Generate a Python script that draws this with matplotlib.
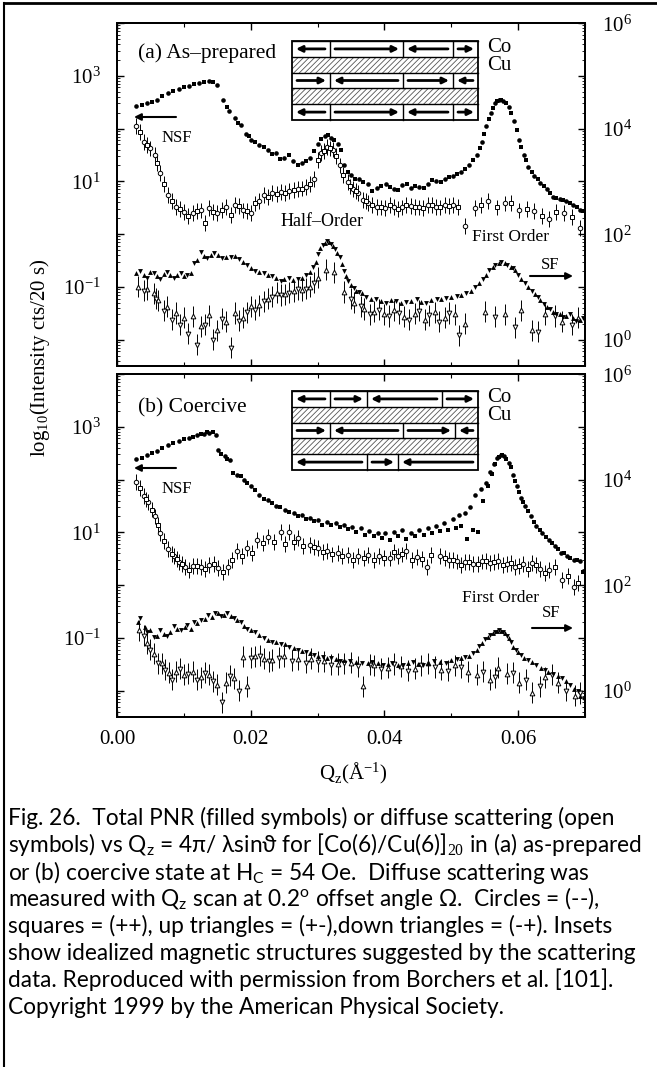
import numpy as np
import matplotlib
matplotlib.use('Agg')
import matplotlib.pyplot as plt
from matplotlib.patches import Rectangle
from matplotlib.lines import Line2D
from matplotlib.ticker import LogLocator, FuncFormatter, MultipleLocator, NullFormatter

plt.rcParams['font.family'] = ['Liberation Serif', 'DejaVu Serif']
plt.rcParams['mathtext.fontset'] = 'custom'
plt.rcParams['mathtext.rm'] = 'Liberation Serif'
plt.rcParams['mathtext.it'] = 'Lato:italic'
plt.rcParams['mathtext.sf'] = 'Lato'
plt.rcParams['hatch.linewidth'] = 0.6

# ---------------- data (Q_z in 1/A, intensity) ----------------
# (a) as-prepared, NSF total reflectivity (left axis)
a_nsf_circ = [(0.0029, 270), (0.0045, 300), (0.0060, 355), (0.0076, 470), (0.0092, 550), (0.0107, 645),
              (0.0123, 740), (0.0138, 795), (0.0149, 675), (0.0159, 340), (0.0168, 215), (0.0177, 160),
              (0.0185, 117), (0.0193, 80), (0.0201, 60), (0.0213, 48), (0.0226, 39), (0.0238, 35),
              (0.0250, 28), (0.0263, 24), (0.0276, 22), (0.0289, 28), (0.0300, 50), (0.0311, 71),
              (0.0320, 66), (0.0330, 50), (0.0340, 20), (0.0350, 13), (0.0362, 11), (0.0375, 8.9),
              (0.0389, 7.4), (0.0402, 8.9), (0.0415, 7.1), (0.0427, 8.5), (0.0440, 7.6), (0.0452, 7.9),
              (0.0465, 8.9), (0.0477, 10), (0.0490, 11), (0.0502, 12.6), (0.0514, 15), (0.0527, 20),
              (0.0539, 32), (0.0546, 56), (0.0552, 110), (0.0559, 200), (0.0565, 300), (0.0571, 347),
              (0.0578, 330), (0.0586, 257), (0.0594, 141), (0.0602, 60), (0.0609, 32), (0.0615, 19),
              (0.0624, 12.6), (0.0633, 9.3), (0.0643, 7.1), (0.0652, 5.1), (0.0662, 4.6), (0.0671, 4.2),
              (0.0682, 3.5), (0.0693, 2.9)]
a_nsf_sq = [(0.0037, 285), (0.0052, 325), (0.0068, 410), (0.0084, 510), (0.0100, 600), (0.0115, 690),
            (0.0130, 770), (0.0144, 760), (0.0164, 260), (0.0181, 130), (0.0197, 72), (0.0207, 55),
            (0.0220, 44), (0.0232, 33), (0.0244, 26), (0.0257, 31), (0.0270, 20), (0.0282, 24),
            (0.0295, 38), (0.0305, 62), (0.0315, 75), (0.0325, 60), (0.0335, 40), (0.0345, 15),
            (0.0356, 11), (0.0368, 9.5), (0.0382, 6.5), (0.0395, 8), (0.0408, 7.8), (0.0421, 6.8),
            (0.0434, 9), (0.0446, 8.2), (0.0459, 7.5), (0.0471, 10.5), (0.0484, 9.5), (0.0496, 12),
            (0.0508, 13.5), (0.0520, 17), (0.0533, 25), (0.0543, 42), (0.0549, 80), (0.0556, 150),
            (0.0562, 250), (0.0568, 330), (0.0575, 350), (0.0582, 300), (0.0590, 200), (0.0598, 95),
            (0.0605, 45), (0.0612, 25), (0.0620, 15), (0.0629, 11), (0.0638, 8), (0.0648, 6),
            (0.0657, 4.9), (0.0667, 4.5), (0.0677, 3.8), (0.0688, 3.3), (0.0697, 2.7)]
# (a) NSF diffuse (open)
a_dif_circ = [(0.0029, 112), (0.0041, 56), (0.0050, 42), (0.0057, 32), (0.0065, 14.5), (0.0076, 5.5),
              (0.0088, 3.3), (0.0100, 2.6), (0.0113, 2.5), (0.0125, 2.8), (0.0138, 3.1), (0.0150, 2.5),
              (0.0163, 3.3), (0.0176, 3.5), (0.0188, 2.8), (0.0201, 2.5), (0.0213, 4.2), (0.0220, 5.5),
              (0.0232, 6.0), (0.0245, 6.3), (0.0257, 6.6), (0.0270, 7.1), (0.0282, 7.9), (0.0295, 11),
              (0.0305, 35), (0.0314, 45), (0.0323, 40), (0.0333, 20), (0.0345, 9.8), (0.0353, 7.1),
              (0.0361, 5.9), (0.0368, 4.5), (0.0376, 3.9), (0.0389, 3.3), (0.0401, 3.1), (0.0414, 3.3),
              (0.0427, 3.2), (0.0440, 3.4), (0.0452, 3.2), (0.0465, 3.5), (0.0477, 3.3), (0.0490, 3.5),
              (0.0502, 3.5), (0.0520, 1.4), (0.0535, 3.1), (0.0555, 4.2), (0.0580, 3.8), (0.0602, 2.8),
              (0.0624, 2.75), (0.0646, 1.9), (0.0668, 2.5), (0.0692, 1.3)]
a_dif_sq = [(0.0035, 85), (0.0045, 48), (0.0060, 22), (0.0070, 9), (0.0082, 4.2), (0.0094, 3.0),
            (0.0106, 2.2), (0.0119, 2.7), (0.0131, 1.6), (0.0144, 2.6), (0.0157, 2.9), (0.0170, 2.3),
            (0.0182, 3.4), (0.0195, 2.7), (0.0207, 3.8), (0.0226, 5.0), (0.0239, 5.8), (0.0251, 6.0),
            (0.0264, 6.8), (0.0276, 7.3), (0.0289, 9), (0.0300, 25), (0.0310, 38), (0.0318, 42),
            (0.0328, 30), (0.0338, 13), (0.0349, 8), (0.0357, 6.5), (0.0372, 4.2), (0.0382, 3.6),
            (0.0395, 3.2), (0.0408, 3.5), (0.0420, 3.0), (0.0433, 3.6), (0.0446, 3.3), (0.0458, 3.1),
            (0.0471, 3.6), (0.0483, 3.2), (0.0496, 3.4), (0.0510, 3.3), (0.0545, 3.6), (0.0568, 3.2),
            (0.0590, 3.9), (0.0613, 3.0), (0.0635, 2.2), (0.0657, 2.6), (0.0680, 2.1)]
# (a) SF total reflectivity (right axis)
a_sf_up = [(0.0029, 18.6), (0.0040, 17), (0.0050, 19), (0.0060, 16), (0.0070, 17.5), (0.0080, 16.5),
           (0.0090, 17), (0.0100, 16), (0.0110, 18), (0.0120, 32), (0.0130, 38), (0.0140, 40),
           (0.0151, 41), (0.0163, 37), (0.0176, 38), (0.0188, 30), (0.0201, 23), (0.0213, 19),
           (0.0226, 17), (0.0238, 15), (0.0250, 14), (0.0263, 13.5), (0.0276, 15), (0.0289, 19.5),
           (0.0297, 30), (0.0304, 55), (0.0311, 68), (0.0317, 72), (0.0323, 60), (0.0329, 44),
           (0.0336, 27), (0.0342, 16), (0.0350, 11), (0.0358, 8.5), (0.0366, 7.6), (0.0380, 6.0),
           (0.0395, 5.3), (0.0410, 5.6), (0.0425, 5.0), (0.0440, 5.4), (0.0455, 5.2), (0.0470, 5.6),
           (0.0485, 6.0), (0.0500, 6.3), (0.0515, 7.0), (0.0530, 8.3), (0.0542, 12), (0.0552, 17),
           (0.0562, 24), (0.0571, 28), (0.0580, 28), (0.0589, 24), (0.0596, 21), (0.0605, 14),
           (0.0615, 10), (0.0625, 7.4), (0.0633, 5.6), (0.0643, 4.2), (0.0652, 3.4), (0.0662, 3.0),
           (0.0672, 2.8), (0.0682, 2.6), (0.0693, 2.4)]
a_sf_dn = [(0.0034, 20), (0.0045, 15), (0.0055, 18), (0.0065, 14), (0.0075, 19), (0.0085, 15),
           (0.0095, 18.5), (0.0105, 17), (0.0115, 28), (0.0125, 45), (0.0135, 35), (0.0145, 43),
           (0.0157, 35), (0.0170, 36), (0.0182, 33), (0.0195, 26), (0.0207, 20), (0.0220, 18),
           (0.0232, 16), (0.0245, 13), (0.0257, 14.5), (0.0270, 14), (0.0282, 16.5), (0.0293, 24),
           (0.0301, 42), (0.0308, 62), (0.0314, 75), (0.0320, 66), (0.0326, 52), (0.0333, 36),
           (0.0339, 20), (0.0346, 13), (0.0354, 9.5), (0.0362, 8), (0.0373, 6.5), (0.0388, 5.8),
           (0.0402, 5.0), (0.0418, 5.5), (0.0432, 5.2), (0.0448, 5.8), (0.0462, 5.0), (0.0478, 5.9),
           (0.0492, 6.2), (0.0508, 6.6), (0.0522, 7.5), (0.0536, 10), (0.0547, 14), (0.0557, 21),
           (0.0566, 26), (0.0575, 29), (0.0584, 26), (0.0592, 23), (0.0600, 17), (0.0610, 12),
           (0.0620, 8.5), (0.0629, 6.5), (0.0638, 4.8), (0.0648, 3.8), (0.0657, 3.1), (0.0667, 2.7),
           (0.0677, 3.0), (0.0687, 2.3), (0.0697, 2.6)]
# (a) SF diffuse (open)
a_sfd_up = [(0.0032, 10), (0.0045, 9), (0.0055, 7.5), (0.0062, 5.6), (0.0075, 4.2), (0.0088, 3.2),
            (0.0100, 2.6), (0.0113, 2.75), (0.0125, 1.8), (0.0138, 2.9), (0.0150, 1.5), (0.0163, 2.2),
            (0.0176, 3.2), (0.0188, 2.6), (0.0201, 4.3), (0.0213, 4.5), (0.0226, 6), (0.0239, 7.8),
            (0.0251, 7.2), (0.0264, 8.3), (0.0276, 8.7), (0.0289, 10), (0.0301, 15), (0.0313, 21),
            (0.0325, 19), (0.0340, 8), (0.0355, 5), (0.0370, 3.8), (0.0385, 3.4), (0.0400, 3.0),
            (0.0415, 3.6), (0.0430, 2.7), (0.0445, 3.1), (0.0460, 2.4), (0.0475, 3.3), (0.0490, 2.6),
            (0.0505, 3.0), (0.0520, 2.0), (0.0550, 3.4), (0.0580, 3.0), (0.0605, 3.6), (0.0620, 1.5),
            (0.0640, 3.0), (0.0665, 2.2), (0.0690, 2.6)]
a_sfd_dn = [(0.0040, 8.5), (0.0058, 6), (0.0070, 3.5), (0.0082, 2.4), (0.0094, 1.9), (0.0106, 1.3),
            (0.0119, 0.8), (0.0131, 1.9), (0.0144, 1.0), (0.0157, 2.5), (0.0170, 0.7), (0.0182, 2.3),
            (0.0195, 3.3), (0.0207, 3.7), (0.0220, 5.3), (0.0232, 6.5), (0.0245, 7.0), (0.0257, 7.7),
            (0.0270, 9.0), (0.0282, 9.3), (0.0295, 12), (0.0350, 6), (0.0365, 4.3), (0.0378, 3.0),
            (0.0392, 3.7), (0.0407, 2.8), (0.0422, 3.2), (0.0437, 2.4), (0.0452, 3.5), (0.0467, 2.9),
            (0.0482, 2.2), (0.0497, 3.2), (0.0512, 1.2), (0.0565, 2.7), (0.0595, 1.7), (0.0630, 1.4),
            (0.0655, 2.8), (0.0680, 1.9)]

# (b) coercive, NSF total reflectivity (left axis)
b_nsf_circ = [(0.0029, 240), (0.0045, 290), (0.0060, 350), (0.0076, 445), (0.0092, 540), (0.0107, 620),
              (0.0120, 690), (0.0130, 740), (0.0138, 760), (0.0148, 700), (0.0151, 360), (0.0162, 280),
              (0.0169, 235), (0.0179, 123), (0.0190, 100), (0.0201, 74), (0.0213, 52), (0.0226, 41),
              (0.0238, 32), (0.0251, 27), (0.0264, 23), (0.0276, 21), (0.0289, 19), (0.0301, 17),
              (0.0314, 16), (0.0327, 15), (0.0340, 13.5), (0.0352, 12.5), (0.0365, 12), (0.0377, 10.5),
              (0.0390, 9.5), (0.0401, 9.5), (0.0414, 10), (0.0427, 11), (0.0440, 9.8), (0.0452, 11),
              (0.0465, 12), (0.0477, 13), (0.0489, 15), (0.0502, 18), (0.0511, 21), (0.0520, 23),
              (0.0528, 30), (0.0536, 50), (0.0544, 65), (0.0552, 85), (0.0558, 140), (0.0564, 200),
              (0.0569, 260), (0.0574, 295), (0.0579, 280), (0.0586, 205), (0.0592, 120), (0.0598, 74),
              (0.0605, 45), (0.0611, 31), (0.0619, 20), (0.0627, 13), (0.0636, 9.5), (0.0646, 7.2),
              (0.0655, 5.5), (0.0664, 4.1), (0.0673, 3.6), (0.0683, 3.0), (0.0693, 2.8)]
b_nsf_sq = [(0.0037, 260), (0.0052, 315), (0.0068, 400), (0.0084, 500), (0.0100, 580), (0.0114, 650),
            (0.0125, 720), (0.0134, 790), (0.0143, 800), (0.0156, 300), (0.0165, 250), (0.0174, 135),
            (0.0185, 118), (0.0195, 85), (0.0207, 62), (0.0220, 43), (0.0232, 36), (0.0244, 30),
            (0.0257, 24), (0.0270, 20), (0.0282, 18), (0.0295, 16.5), (0.0307, 14), (0.0320, 13.5),
            (0.0333, 12.5), (0.0346, 11.5), (0.0358, 10), (0.0371, 9), (0.0384, 8.5), (0.0396, 7.8),
            (0.0408, 7.2), (0.0420, 8.5), (0.0433, 7.5), (0.0446, 8.5), (0.0459, 9), (0.0471, 9.5),
            (0.0483, 10.5), (0.0495, 11), (0.0507, 12), (0.0515, 13), (0.0524, 7.5), (0.0532, 11),
            (0.0540, 10), (0.0548, 40), (0.0555, 75), (0.0561, 130), (0.0566, 200), (0.0571, 270),
            (0.0576, 290), (0.0582, 250), (0.0589, 170), (0.0595, 95), (0.0601, 58), (0.0608, 38),
            (0.0615, 25), (0.0623, 16), (0.0632, 11), (0.0641, 8), (0.0651, 6.2), (0.0660, 4.8),
            (0.0669, 4.0), (0.0678, 3.3), (0.0688, 3.0), (0.0697, 1.8)]
# (b) NSF diffuse (open)
b_dif_circ = [(0.0029, 91), (0.0041, 48), (0.0047, 38), (0.0057, 20), (0.0065, 9.5), (0.0076, 4.9),
              (0.0085, 3.5), (0.0093, 2.7), (0.0101, 2.2), (0.0113, 2.3), (0.0126, 2.2), (0.0138, 2.4),
              (0.0151, 2.1), (0.0166, 2.2), (0.0179, 4.4), (0.0195, 5.0), (0.0210, 7.2), (0.0226, 8.3),
              (0.0245, 10.2), (0.0257, 10.2), (0.0270, 7.8), (0.0289, 5.8), (0.0301, 5.0), (0.0314, 4.4),
              (0.0330, 4.0), (0.0345, 3.7), (0.0361, 3.6), (0.0376, 3.7), (0.0392, 3.5), (0.0408, 3.2),
              (0.0420, 3.6), (0.0433, 4.4), (0.0448, 3.4), (0.0464, 2.2), (0.0483, 3.5), (0.0496, 3.0),
              (0.0508, 2.8), (0.0521, 2.7), (0.0533, 2.5), (0.0546, 2.8), (0.0558, 2.6), (0.0570, 2.9),
              (0.0583, 2.5), (0.0596, 2.2), (0.0608, 2.5), (0.0621, 2.6), (0.0633, 2.0), (0.0646, 1.9),
              (0.0665, 1.25), (0.0683, 0.93)]
b_dif_sq = [(0.0035, 70), (0.0044, 42), (0.0052, 27), (0.0061, 14), (0.0070, 6.8), (0.0082, 3.9),
            (0.0090, 3.1), (0.0097, 2.5), (0.0107, 1.9), (0.0119, 2.3), (0.0132, 2.0), (0.0145, 2.5),
            (0.0158, 1.8), (0.0172, 3.0), (0.0187, 3.5), (0.0202, 4.0), (0.0218, 6.2), (0.0235, 6.5),
            (0.0251, 6.0), (0.0264, 6.6), (0.0278, 5.5), (0.0295, 5.2), (0.0308, 4.3), (0.0322, 3.8),
            (0.0337, 3.6), (0.0353, 3.0), (0.0369, 3.3), (0.0384, 3.0), (0.0400, 3.3), (0.0414, 4.3),
            (0.0427, 3.8), (0.0441, 3.0), (0.0456, 3.1), (0.0470, 3.7), (0.0490, 3.3), (0.0502, 3.0),
            (0.0515, 2.4), (0.0527, 2.7), (0.0540, 2.5), (0.0552, 2.9), (0.0564, 2.7), (0.0577, 2.4),
            (0.0590, 2.6), (0.0602, 2.3), (0.0615, 2.0), (0.0627, 2.4), (0.0640, 1.7), (0.0655, 2.2),
            (0.0675, 1.5), (0.0690, 1.1)]
# (b) SF total reflectivity (right axis)
b_sf_up = [(0.0032, 20), (0.0042, 16), (0.0050, 14), (0.0060, 11), (0.0070, 12), (0.0080, 13),
           (0.0090, 15), (0.0101, 16), (0.0110, 15), (0.0120, 19), (0.0132, 23), (0.0142, 25),
           (0.0151, 29), (0.0160, 27), (0.0170, 26), (0.0180, 22), (0.0190, 17), (0.0201, 14),
           (0.0213, 11.5), (0.0226, 9.1), (0.0238, 8.2), (0.0251, 7.5), (0.0264, 6.3), (0.0276, 5.7),
           (0.0289, 5.2), (0.0301, 4.5), (0.0314, 4.2), (0.0327, 4.0), (0.0340, 3.8), (0.0358, 3.5),
           (0.0375, 3.4), (0.0390, 3.3), (0.0405, 3.2), (0.0420, 3.1), (0.0435, 3.3), (0.0450, 3.2),
           (0.0465, 3.4), (0.0483, 3.5), (0.0500, 3.8), (0.0515, 4.1), (0.0527, 4.5), (0.0538, 6.0),
           (0.0546, 8), (0.0555, 10.5), (0.0562, 12.5), (0.0568, 13.2), (0.0575, 13.5), (0.0580, 12.3),
           (0.0587, 10), (0.0593, 6.8), (0.0600, 5.5), (0.0609, 4.2), (0.0620, 3.5), (0.0634, 2.7),
           (0.0645, 2.3), (0.0659, 1.9), (0.0672, 1.5), (0.0684, 1.05), (0.0693, 0.8)]
b_sf_dn = [(0.0035, 24), (0.0045, 13), (0.0055, 10.5), (0.0065, 14), (0.0075, 11), (0.0085, 17),
           (0.0095, 14), (0.0105, 17.5), (0.0115, 20), (0.0125, 22), (0.0136, 27), (0.0146, 30),
           (0.0156, 26), (0.0165, 29), (0.0175, 24), (0.0185, 20), (0.0195, 15), (0.0207, 13),
           (0.0220, 10), (0.0232, 8.5), (0.0245, 7.8), (0.0257, 6.8), (0.0270, 6.0), (0.0282, 5.4),
           (0.0295, 4.8), (0.0308, 4.4), (0.0320, 4.1), (0.0333, 3.7), (0.0348, 3.6), (0.0366, 3.3),
           (0.0382, 3.5), (0.0398, 3.0), (0.0412, 3.4), (0.0428, 3.0), (0.0442, 3.5), (0.0458, 3.1),
           (0.0474, 3.6), (0.0492, 3.3), (0.0508, 3.9), (0.0521, 4.3), (0.0533, 5.2), (0.0542, 7),
           (0.0550, 9.5), (0.0558, 11.5), (0.0565, 13), (0.0572, 13.8), (0.0578, 13), (0.0584, 11),
           (0.0590, 8.5), (0.0597, 6.0), (0.0604, 4.8), (0.0614, 3.8), (0.0627, 3.0), (0.0640, 2.5),
           (0.0652, 2.1), (0.0665, 1.7), (0.0678, 1.3), (0.0690, 1.0), (0.0698, 0.7)]
# (b) SF diffuse (open)
b_sfd_up = [(0.0033, 14), (0.0045, 8), (0.0055, 5), (0.0067, 3.3), (0.0078, 2.2), (0.0088, 2.3),
            (0.0100, 2.0), (0.0113, 2.3), (0.0125, 1.8), (0.0138, 2.0), (0.0150, 1.3), (0.0163, 1.4),
            (0.0175, 1.7), (0.0188, 4.4), (0.0195, 1.2), (0.0207, 4.5), (0.0220, 4.0), (0.0232, 3.8),
            (0.0250, 4.5), (0.0270, 3.9), (0.0290, 4.0), (0.0310, 3.6), (0.0330, 3.2), (0.0350, 3.4),
            (0.0368, 1.2), (0.0385, 3.0), (0.0405, 2.7), (0.0425, 2.9), (0.0445, 2.6), (0.0465, 3.3),
            (0.0485, 2.5), (0.0505, 3.0), (0.0525, 2.3), (0.0539, 2.0), (0.0558, 1.6), (0.0570, 2.7),
            (0.0583, 2.1), (0.0602, 1.4), (0.0621, 0.92), (0.0640, 1.8), (0.0660, 1.4), (0.0685, 0.8)]
b_sfd_dn = [(0.0040, 11), (0.0050, 6), (0.0062, 3.3), (0.0072, 2.5), (0.0082, 1.6), (0.0094, 2.6),
            (0.0106, 2.1), (0.0119, 1.6), (0.0132, 2.2), (0.0144, 1.5), (0.0157, 0.6), (0.0169, 1.9),
            (0.0182, 1.0), (0.0200, 4.2), (0.0214, 4.6), (0.0228, 3.6), (0.0242, 4.2), (0.0262, 3.7),
            (0.0282, 3.4), (0.0300, 3.5), (0.0320, 3.1), (0.0340, 3.3), (0.0360, 2.9), (0.0378, 3.1),
            (0.0395, 2.6), (0.0415, 3.2), (0.0435, 2.4), (0.0455, 3.0), (0.0475, 2.8), (0.0495, 2.4),
            (0.0515, 2.8), (0.0548, 2.3), (0.0565, 1.8), (0.0592, 2.2), (0.0612, 1.6), (0.0632, 1.2),
            (0.0650, 2.0), (0.0672, 1.0), (0.0692, 0.9)]

# inset domain layouts: per Co row, segment boundaries (figure px) and arrow directions
a_rows = [([292, 330, 403, 453, 478], [-1, 1, -1, 1]),
          ([292, 330, 403, 453, 478], [1, -1, 1, -1]),
          ([292, 330, 403, 453, 478], [-1, 1, -1, 1])]
b_rows = [([292, 330, 367, 442, 478], [-1, 1, -1, 1]),
          ([292, 330, 403, 455, 478], [1, -1, 1, -1]),
          ([292, 367, 398, 478], [-1, 1, -1])]

caption = [
    'Fig. 26.  Total PNR (filled symbols) or diffuse scattering (open',
    r'symbols) vs Q$_\mathsf{z}$ = 4π/ λsinϑ for [Co(6)/Cu(6)]$_{\mathit{20}}$ in (a) as-prepared',
    r'or (b) coercive state at H$_\mathsf{C}$ = 54 Oe.  Diffuse scattering was',
    r'measured with Q$_\mathsf{z}$ scan at 0.2$^\mathsf{o}$ offset angle Ω.  Circles = (--),',
    'squares = (++), up triangles = (+-),down triangles = (-+). Insets',
    'show idealized magnetic structures suggested by the scattering',
    'data. Reproduced with permission from Borchers et al. [101].',
    'Copyright 1999 by the American Physical Society.',
]

# ---------------- layout helpers (figure pixels, origin top-left) ----------------
W, H = 657, 1067
fig = plt.figure(figsize=(W / 100, H / 100), dpi=100)


def P(x, y):
    return (x / W, 1 - y / H)


XL, XR = 117, 585
PH = 343


def unpack(pairs):
    q = np.array([p[0] for p in pairs])
    v = np.array([p[1] for p in pairs])
    return q, v


def left_fmt(v, pos):
    e = int(round(np.log10(v)))
    return r'$10^{%d}$' % e if e % 2 else ''


def right_fmt(v, pos):
    e = int(round(np.log10(v)))
    return r'$10^{%d}$' % e if e % 2 == 0 else ''


def draw_panel(top, nsf_f, nsf_o, sf_f, sf_o, bottom_labels):
    ax = fig.add_axes([XL / W, 1 - (top + PH) / H, (XR - XL) / W, PH / H])
    ax2 = ax.twinx()
    ax.set_yscale('log')
    ax2.set_yscale('log')
    ax.set_ylim(10 ** -2.5, 1e4)
    ax2.set_ylim(10 ** -0.5, 1e6)
    ax.set_xlim(0, 0.07)

    for pairs, m in zip(nsf_f, ['o', 's']):
        q, v = unpack(pairs)
        ax.plot(q, v, m, color='k', ms=3.3, mew=0, ls='none', zorder=3)
    for pairs, m in zip(nsf_o, ['o', 's']):
        q, v = unpack(pairs)
        d = 0.15
        ax.errorbar(q, v, yerr=[v * (1 - 10 ** -d), v * (10 ** d - 1)], fmt=m, ms=3.2,
                    mfc='white', mec='k', mew=0.7, ecolor='k', elinewidth=0.7, capsize=0, zorder=2)
    for pairs, m in zip(sf_f, ['^', 'v']):
        q, v = unpack(pairs)
        ax2.plot(q, v, m, color='k', ms=3.5, mew=0, ls='none', zorder=3)
    for pairs, m in zip(sf_o, ['^', 'v']):
        q, v = unpack(pairs)
        d = 0.2
        ax2.errorbar(q, v, yerr=[v * (1 - 10 ** -d), v * (10 ** d - 1)], fmt=m, ms=3.4,
                     mfc='white', mec='k', mew=0.7, ecolor='k', elinewidth=0.7, capsize=0, zorder=2)

    for a in (ax, ax2):
        for s in a.spines.values():
            s.set_linewidth(1.4)
    ax.xaxis.set_major_locator(MultipleLocator(0.02))
    ax.xaxis.set_minor_locator(MultipleLocator(0.01))
    ax.xaxis.set_major_formatter(FuncFormatter(lambda v, p: '%.2f' % v))
    ax.yaxis.set_major_locator(LogLocator(base=10, numticks=20))
    ax.yaxis.set_minor_locator(LogLocator(base=10, subs=np.arange(2, 10), numticks=20))
    ax.yaxis.set_major_formatter(FuncFormatter(left_fmt))
    ax.yaxis.set_minor_formatter(NullFormatter())
    ax2.yaxis.set_major_locator(LogLocator(base=10, numticks=20))
    ax2.yaxis.set_minor_locator(LogLocator(base=10, subs=np.arange(2, 10), numticks=20))
    ax2.yaxis.set_major_formatter(FuncFormatter(right_fmt))
    ax2.yaxis.set_minor_formatter(NullFormatter())

    ax.tick_params(axis='x', which='both', direction='in', top=True, bottom=True,
                   labelbottom=bottom_labels, labelsize=15, pad=9)
    ax.tick_params(axis='x', which='major', length=5, width=1)
    ax.tick_params(axis='x', which='minor', length=3, width=0.8)
    ax.tick_params(axis='y', which='both', direction='in', left=True, right=False, labelsize=15, pad=12)
    ax.tick_params(axis='y', which='major', length=5, width=1)
    ax.tick_params(axis='y', which='minor', length=2.5, width=0.6)
    ax2.tick_params(axis='y', which='both', direction='in', right=True, labelsize=15, pad=12)
    ax2.tick_params(axis='y', which='major', length=5, width=1)
    ax2.tick_params(axis='y', which='minor', length=2.5, width=0.6)
    return ax, ax2


def arrow(x0, y0, x1, y1, lw=1.5, ms=10):
    fig.add_artist(matplotlib.patches.FancyArrowPatch(
        P(x0, y0), P(x1, y1), transform=fig.transFigure, arrowstyle='-|>',
        mutation_scale=ms, lw=lw, color='k', shrinkA=0, shrinkB=0, zorder=5))


def inset(top, rows):
    x0, x1 = 292, 478
    h = 15.8
    for i in range(5):
        yt = top + i * h
        if i % 2 == 1:
            fig.add_artist(Rectangle(P(x0, yt + h), (x1 - x0) / W, h / H, transform=fig.transFigure,
                                     facecolor='white', edgecolor='#555555', hatch='//////', lw=0, zorder=4))
        else:
            fig.add_artist(Rectangle(P(x0, yt + h), (x1 - x0) / W, h / H, transform=fig.transFigure,
                                     facecolor='white', edgecolor='none', zorder=4))
            bounds, dirs = rows[i // 2]
            for b in bounds[1:-1]:
                fig.add_artist(Line2D([b / W, b / W], [1 - yt / H, 1 - (yt + h) / H],
                                      transform=fig.transFigure, color='k', lw=1, zorder=5))
            for (s0, s1), d in zip(zip(bounds[:-1], bounds[1:]), dirs):
                ym = yt + h / 2
                if d > 0:
                    arrow(s0 + 5, ym, s1 - 4, ym, lw=2, ms=9)
                else:
                    arrow(s1 - 5, ym, s0 + 4, ym, lw=2, ms=9)
        fig.add_artist(Line2D([x0 / W, x1 / W], [1 - yt / H, 1 - yt / H],
                              transform=fig.transFigure, color='k', lw=1, zorder=5))
    fig.add_artist(Rectangle(P(x0, top + 5 * h), (x1 - x0) / W, 5 * h / H, transform=fig.transFigure,
                             fill=False, edgecolor='k', lw=1.3, zorder=6))
    fig.text(*P(487, top + 7), 'Co', fontsize=15, va='center', ha='left')
    fig.text(*P(487, top + 25), 'Cu', fontsize=15, va='center', ha='left')


# ---------------- panels ----------------
draw_panel(23, [a_nsf_circ, a_nsf_sq], [a_dif_circ, a_dif_sq], [a_sf_up, a_sf_dn],
           [a_sfd_up, a_sfd_dn], False)
draw_panel(374, [b_nsf_circ, b_nsf_sq], [b_dif_circ, b_dif_sq], [b_sf_up, b_sf_dn],
           [b_sfd_up, b_sfd_dn], True)

inset(41, a_rows)
inset(391, b_rows)

fig.text(*P(138, 53), '(a) As–prepared', fontsize=15.5, va='center', ha='left')
fig.text(*P(138, 408), '(b) Coercive', fontsize=15.5, va='center', ha='left')

# NSF / SF markers
for dy in (0, 351):
    arrow(176, 117 + dy, 134, 117 + dy)
    fig.text(*P(177, 138 + dy), 'NSF', fontsize=12, ha='center', va='center')
fig.text(*P(550, 265), 'SF', fontsize=12, ha='center', va='center')
arrow(530, 276, 573, 276)
fig.text(*P(551, 613), 'SF', fontsize=12, ha='center', va='center')
arrow(532, 628, 573, 628)
fig.text(*P(322, 222), 'Half–Order', fontsize=13, ha='center', va='center')
fig.text(*P(510, 237), 'First Order', fontsize=12.5, ha='center', va='center')
fig.text(*P(500, 598), 'First Order', fontsize=12.5, ha='center', va='center')

fig.text(*P(40, 358), r'log$_{10}$(Intensity cts/20 s)', fontsize=15, rotation=90,
         ha='center', va='center')
fig.text(*P(353, 773), r'Q$_\mathrm{z}$(Å$^{-1}$)', fontsize=15, ha='center', va='center')

# outer frame (left and top edges)
fig.add_artist(Line2D([4 / W, 4 / W], [0, 1 - 3 / H], transform=fig.transFigure, color='k', lw=1.5))
fig.add_artist(Line2D([4 / W, 1], [1 - 3 / H, 1 - 3 / H], transform=fig.transFigure, color='k', lw=2))

# caption, sized so the second line spans the measured width
cap_fam = ['Lato', 'DejaVu Sans']
probe = fig.text(0, 0, caption[1], fontsize=14, family=cap_fam)
fig.canvas.draw()
wpx = probe.get_window_extent().width
probe.remove()
cap_size = 14 * 635 / wpx
for i, line in enumerate(caption):
    fig.text(*P(8, 818 + 27 * i), line, fontsize=cap_size, family=cap_fam, ha='left', va='center')

fig.savefig('out.png', dpi=100)
